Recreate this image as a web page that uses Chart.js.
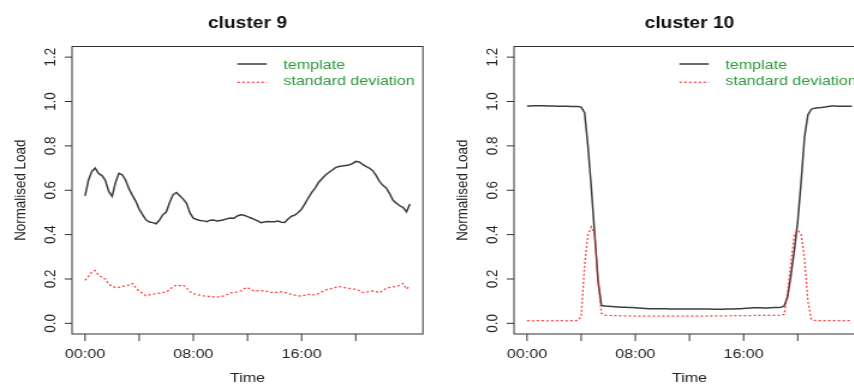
<!DOCTYPE html>
<html>
<head>
<meta charset="utf-8">
<title>cluster templates</title>
<script src="https://cdn.jsdelivr.net/npm/chart.js@4.4.1/dist/chart.umd.min.js"></script>
<style>
  html, body { margin: 0; padding: 0; background: #fff; }
  #wrap { position: relative; width: 854px; height: 385px; overflow: hidden; background: #fff; }
  #wrap canvas { position: absolute; top: 0; }
</style>
</head>
<body>
<div id="wrap">
  <!-- drawn at 369 wide, shown 1.2x wider -->
  <canvas id="c9" width="369" height="385" style="left:0;width:442.8px;height:385px"></canvas>
  <canvas id="c10" width="369" height="385" style="left:442.3px;width:442.8px;height:385px"></canvas>
</div>
<script>
// ---------- data ----------
// quarter-hour steps over the day
const hours = Array.from({length: 97}, (_, i) => i / 4);

const c9Template = [
  0.575, 0.645, 0.685, 0.700, 0.676, 0.666, 0.645, 0.595,
  0.572, 0.635, 0.676, 0.670, 0.645, 0.606, 0.577, 0.550,
  0.515, 0.490, 0.467, 0.457, 0.454, 0.449, 0.466, 0.490,
  0.502, 0.545, 0.580, 0.590, 0.575, 0.560, 0.541, 0.498,
  0.474, 0.468, 0.464, 0.462, 0.458, 0.465, 0.466, 0.461,
  0.464, 0.467, 0.472, 0.475, 0.474, 0.484, 0.489, 0.487,
  0.481, 0.475, 0.469, 0.462, 0.454, 0.457, 0.459, 0.458,
  0.458, 0.461, 0.456, 0.455, 0.470, 0.483, 0.488, 0.500,
  0.515, 0.540, 0.566, 0.590, 0.610, 0.635, 0.652, 0.668,
  0.680, 0.690, 0.702, 0.707, 0.709, 0.712, 0.714, 0.720,
  0.730, 0.728, 0.717, 0.708, 0.700, 0.688, 0.667, 0.640,
  0.622, 0.610, 0.585, 0.555, 0.542, 0.530, 0.522, 0.503,
  0.538
];
const c9Std = [
  0.194, 0.212, 0.232, 0.238, 0.218, 0.208, 0.200, 0.176,
  0.168, 0.161, 0.162, 0.167, 0.170, 0.172, 0.180, 0.160,
  0.145, 0.135, 0.124, 0.128, 0.131, 0.134, 0.136, 0.138,
  0.142, 0.152, 0.166, 0.172, 0.170, 0.172, 0.160, 0.143,
  0.134, 0.130, 0.127, 0.124, 0.122, 0.121, 0.119, 0.118,
  0.121, 0.124, 0.130, 0.137, 0.139, 0.142, 0.146, 0.156,
  0.162, 0.152, 0.146, 0.147, 0.148, 0.145, 0.144, 0.140,
  0.138, 0.141, 0.142, 0.140, 0.134, 0.130, 0.127, 0.124,
  0.123, 0.127, 0.130, 0.129, 0.128, 0.134, 0.142, 0.150,
  0.154, 0.158, 0.162, 0.166, 0.164, 0.160, 0.158, 0.155,
  0.153, 0.148, 0.140, 0.140, 0.143, 0.146, 0.143, 0.138,
  0.148, 0.158, 0.162, 0.164, 0.166, 0.172, 0.180, 0.155,
  0.170
];
const c10Template = [
  0.980, 0.980, 0.981, 0.981, 0.981, 0.981, 0.980, 0.980,
  0.980, 0.979, 0.979, 0.979, 0.979, 0.978, 0.978, 0.978,
  0.975, 0.950, 0.800, 0.610, 0.400, 0.190, 0.080, 0.078,
  0.077, 0.076, 0.075, 0.074, 0.073, 0.073, 0.072, 0.071,
  0.070, 0.069, 0.068, 0.067, 0.066, 0.066, 0.066, 0.066,
  0.066, 0.066, 0.065, 0.065, 0.065, 0.065, 0.065, 0.065,
  0.065, 0.065, 0.065, 0.065, 0.065, 0.065, 0.065, 0.064,
  0.064, 0.064, 0.064, 0.065, 0.065, 0.065, 0.066, 0.066,
  0.067, 0.068, 0.069, 0.070, 0.070, 0.070, 0.069, 0.069,
  0.070, 0.071, 0.071, 0.072, 0.078, 0.120, 0.220, 0.330,
  0.460, 0.640, 0.840, 0.940, 0.965, 0.970, 0.972, 0.973,
  0.975, 0.978, 0.980, 0.980, 0.979, 0.979, 0.979, 0.979,
  0.979
];
const c10Std = [
  0.012, 0.012, 0.011, 0.012, 0.012, 0.012, 0.011, 0.012,
  0.012, 0.012, 0.012, 0.012, 0.011, 0.012, 0.012, 0.013,
  0.030, 0.260, 0.400, 0.435, 0.400, 0.190, 0.045, 0.037,
  0.036, 0.035, 0.035, 0.035, 0.034, 0.034, 0.034, 0.034,
  0.033, 0.033, 0.033, 0.033, 0.033, 0.033, 0.033, 0.033,
  0.033, 0.033, 0.033, 0.033, 0.033, 0.033, 0.033, 0.033,
  0.033, 0.033, 0.033, 0.033, 0.033, 0.033, 0.033, 0.034,
  0.034, 0.034, 0.034, 0.034, 0.034, 0.035, 0.035, 0.035,
  0.035, 0.035, 0.035, 0.036, 0.036, 0.036, 0.036, 0.036,
  0.036, 0.036, 0.036, 0.036, 0.040, 0.140, 0.280, 0.400,
  0.420, 0.400, 0.290, 0.100, 0.018, 0.013, 0.012, 0.012,
  0.012, 0.012, 0.012, 0.012, 0.012, 0.012, 0.012, 0.012,
  0.012
];

const xTickHours  = [0, 4, 8, 12, 16, 20];
const xTickLabels = ['00:00', '', '08:00', '', '16:00', ''];
const yTicks      = [0, 0.2, 0.4, 0.6, 0.8, 1.0, 1.2];
const seriesNames = ['template', 'standard deviation'];

// ---------- look ----------
const FONT = "'Liberation Sans', Arial, sans-serif";
const INK = '#222';
const LEGEND_TEXT = '#2f9a3c';

// base-graphics style frame: box, outward ticks, rotated y labels, legend
const rFrame = {
  id: 'rFrame',
  afterDraw(chart, args, opts) {
    const {ctx, chartArea: a, scales: {x, y}} = chart;
    const seg = (x1, y1, x2, y2) => { ctx.beginPath(); ctx.moveTo(x1, y1); ctx.lineTo(x2, y2); ctx.stroke(); };
    ctx.save();

    ctx.strokeStyle = '#333';
    ctx.lineWidth = 1;
    ctx.strokeRect(a.left, a.top, a.right - a.left, a.bottom - a.top);

    ctx.fillStyle = INK;
    ctx.font = `13.4px ${FONT}`;
    ctx.textAlign = 'center';
    ctx.textBaseline = 'alphabetic';

    xTickHours.forEach((h, i) => {
      const px = x.getPixelForValue(h);
      seg(px, a.bottom, px, a.bottom + 7);
      if (xTickLabels[i]) ctx.fillText(xTickLabels[i], px, 357.5);
    });

    yTicks.forEach(v => {
      const py = y.getPixelForValue(v);
      seg(a.left - 6, py, a.left, py);
      ctx.save();
      ctx.translate(45.5, py);
      ctx.rotate(-Math.PI / 2);
      ctx.fillText(v.toFixed(1), 0, 0);
      ctx.restore();
    });

    const midX = (a.left + a.right) / 2;
    ctx.fillText('Time', midX, 381.5);
    ctx.save();
    ctx.translate(20.8, (a.top + a.bottom) / 2);
    ctx.rotate(-Math.PI / 2);
    ctx.fillText('Normalised Load', 0, 0);
    ctx.restore();

    ctx.font = `bold 16px ${FONT}`;
    ctx.fillStyle = '#111';
    ctx.fillText(opts.title, midX, 28);

    // legend, top right inside the box
    ctx.font = `13.4px ${FONT}`;
    ctx.textAlign = 'left';
    const rows = [[64, 68.5], [82.3, 85]];
    chart.data.datasets.forEach((ds, i) => {
      const [ly, ty] = rows[i];
      ctx.strokeStyle = ds.borderColor;
      ctx.lineWidth = ds.borderWidth;
      ctx.setLineDash(ds.borderDash || []);
      seg(a.left + 137.75, ly, a.left + 162.25, ly);
      ctx.setLineDash([]);
      ctx.fillStyle = LEGEND_TEXT;
      ctx.fillText(ds.label, a.left + 176, ty);
    });

    ctx.restore();
  }
};

function drawPanel(canvasId, title, template, std) {
  return new Chart(document.getElementById(canvasId), {
    type: 'line',
    data: {
      labels: hours,
      datasets: [
        { label: seriesNames[0], data: template, borderColor: '#3d3d3d', borderWidth: 1.5,
          pointRadius: 0, tension: 0, order: 1 },
        { label: seriesNames[1], data: std, borderColor: 'rgba(255,30,30,0.85)', borderWidth: 1.3,
          borderDash: [2, 2], pointRadius: 0, tension: 0, order: 0 }
      ]
    },
    options: {
      responsive: false,
      animation: false,
      devicePixelRatio: 1,
      events: [],
      layout: { padding: { left: 60, right: 16.75, top: 46.5, bottom: 51 } },
      scales: {
        x: { type: 'linear', display: false, min: -0.96, max: 24.96 },
        y: { type: 'linear', display: false, min: -0.048, max: 1.248 }
      },
      plugins: {
        legend: { display: false },
        tooltip: { enabled: false },
        rFrame: { title }
      }
    },
    plugins: [rFrame]
  });
}

drawPanel('c9', 'cluster 9', c9Template, c9Std);
drawPanel('c10', 'cluster 10', c10Template, c10Std);
</script>
</body>
</html>
